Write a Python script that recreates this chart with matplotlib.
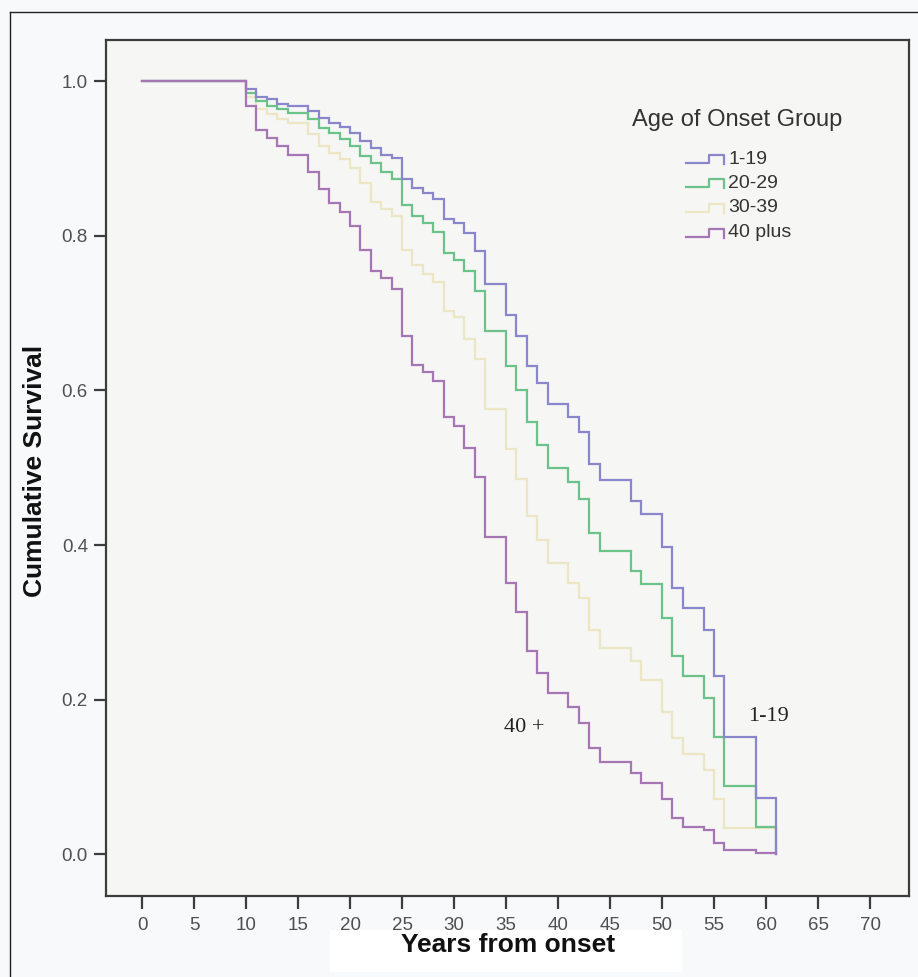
import matplotlib
matplotlib.use("Agg")
import matplotlib.pyplot as plt
from matplotlib.patches import Rectangle
from matplotlib.lines import Line2D

# ---------------- data ----------------
times = [0, 10, 11, 12, 13, 14, 16, 17, 18, 19, 20, 21, 22, 23, 24, 25, 26, 27, 28,
         29, 30, 31, 32, 33, 35, 36, 37, 38, 39, 41, 42, 43, 44, 47, 48, 50, 51, 52,
         54, 55, 56, 59, 61]

surv_1_19 = [1.0, 0.99, 0.98, 0.977, 0.971, 0.968, 0.961, 0.952, 0.946, 0.941, 0.933,
             0.922, 0.913, 0.905, 0.90, 0.873, 0.862, 0.855, 0.848, 0.822, 0.816, 0.803,
             0.78, 0.738, 0.697, 0.67, 0.632, 0.61, 0.582, 0.565, 0.546, 0.505, 0.484,
             0.457, 0.44, 0.397, 0.345, 0.318, 0.29, 0.23, 0.152, 0.073, 0.0]

surv_20_29 = [1.0, 0.985, 0.974, 0.968, 0.964, 0.959, 0.951, 0.939, 0.933, 0.925, 0.916,
              0.903, 0.894, 0.883, 0.873, 0.84, 0.825, 0.816, 0.805, 0.778, 0.768, 0.754,
              0.729, 0.677, 0.632, 0.60, 0.559, 0.529, 0.50, 0.481, 0.459, 0.416, 0.392,
              0.366, 0.349, 0.305, 0.256, 0.23, 0.202, 0.152, 0.088, 0.035, 0.0]

surv_30_39 = [1.0, 0.98, 0.964, 0.957, 0.951, 0.946, 0.931, 0.916, 0.907, 0.899, 0.887,
              0.868, 0.844, 0.835, 0.825, 0.782, 0.762, 0.75, 0.74, 0.703, 0.695, 0.667,
              0.641, 0.576, 0.524, 0.485, 0.437, 0.407, 0.377, 0.351, 0.331, 0.29, 0.267,
              0.25, 0.225, 0.184, 0.15, 0.13, 0.109, 0.072, 0.034, 0.034, 0.0]

surv_40plus = [1.0, 0.968, 0.937, 0.926, 0.916, 0.905, 0.883, 0.861, 0.842, 0.831, 0.812,
               0.782, 0.754, 0.745, 0.731, 0.67, 0.633, 0.624, 0.612, 0.565, 0.554, 0.525,
               0.488, 0.411, 0.351, 0.313, 0.263, 0.235, 0.208, 0.19, 0.17, 0.137, 0.119,
               0.105, 0.092, 0.071, 0.047, 0.035, 0.031, 0.015, 0.006, 0.002, 0.0]

group_labels = ["1-19", "20-29", "30-39", "40 plus"]
legend_title = "Age of Onset Group"
x_ticks = [0, 5, 10, 15, 20, 25, 30, 35, 40, 45, 50, 55, 60, 65, 70]
y_ticks = [0.0, 0.2, 0.4, 0.6, 0.8, 1.0]
y_tick_labels = ["0.0", "0.2", "0.4", "0.6", "0.8", "1.0"]

# ---------------- styling ----------------
colors = ["#8a86cc", "#6cc38a", "#ece6c4", "#a676b4"]
fig_bg = "#f8f9fa"
ax_bg = "#f6f6f5"
frame_col = "#3c3c3c"
tick_label_col = "#505050"

fig = plt.figure(figsize=(9.18, 9.77), dpi=100, facecolor=fig_bg)
ax = fig.add_axes([0.1155, 0.0829, 0.8747, 0.876])
ax.set_facecolor(ax_bg)

series = [surv_1_19, surv_20_29, surv_30_39, surv_40plus]
# draw pale ones first so darker are on top
order = [2, 1, 0, 3]
for i in order:
    ax.plot(times, series[i], drawstyle="steps-post", color=colors[i], lw=1.6,
            solid_joinstyle="miter", zorder=3)

ax.set_xlim(-3.46, 73.75)
ax.set_ylim(-0.054, 1.053)

ax.set_xticks(x_ticks)
ax.set_xticklabels([str(t) for t in x_ticks])
ax.set_yticks(y_ticks)
ax.set_yticklabels(y_tick_labels)

for lab in ax.get_xticklabels() + ax.get_yticklabels():
    lab.set_family("Liberation Sans")
    lab.set_fontsize(13.5)
    lab.set_color(tick_label_col)

ax.tick_params(axis="both", direction="out", length=9, width=1.6, color=frame_col, pad=4)
ax.tick_params(axis="x", pad=6)
for sp in ax.spines.values():
    sp.set_color(frame_col)
    sp.set_linewidth(1.6)

# ---------------- legend (manual) ----------------
ax.text(0.655, 0.9065, legend_title, transform=ax.transAxes, fontsize=17,
        family="Liberation Sans", color="#333333", va="center", ha="left")
entry_y = [0.861, 0.833, 0.804, 0.775]
hx0, hx1 = 0.722, 0.770
d = 0.0045
for lbl, col, yy in zip(group_labels, colors, entry_y):
    xm = hx0 + 0.6 * (hx1 - hx0)
    ax.add_line(Line2D([hx0, xm, xm, hx1, hx1],
                       [yy - d, yy - d, yy + d, yy + d, yy - 1.3 * d],
                       transform=ax.transAxes, color=col, lw=1.6, zorder=4))
    ax.text(0.775, yy, lbl, transform=ax.transAxes, fontsize=14,
            family="Liberation Sans", color="#333333", va="center", ha="left")

# ---------------- annotations ----------------
ax.text(36.8, 0.164, "40 +", fontsize=16, family="Liberation Serif",
        color="#222222", ha="center", va="center")
ax.text(60.2, 0.178, "1-19", fontsize=16, family="Liberation Serif",
        color="#222222", ha="center", va="center")

# ---------------- axis titles ----------------
fig.text(0.038, 0.518, "Cumulative Survival", rotation=90, fontsize=19,
         fontweight="bold", family="Liberation Sans", color="#111111",
         ha="center", va="center")

fig.patches.append(Rectangle((330 / 918, 1 - 972 / 977), 352 / 918, 42 / 977,
                             transform=fig.transFigure, facecolor="white",
                             edgecolor="none", zorder=0))
fig.text(0.553, 0.033, "Years from onset", fontsize=19, fontweight="bold",
         family="Liberation Sans", color="#111111", ha="center", va="center")

# outer border (left and top visible)
fig.add_artist(Line2D([10 / 918, 10 / 918], [0, 1 - 12 / 977], transform=fig.transFigure,
                      color="#222222", lw=1.0))
fig.add_artist(Line2D([10 / 918, 1.0], [1 - 12 / 977, 1 - 12 / 977], transform=fig.transFigure,
                      color="#222222", lw=1.0))

fig.savefig("out.png", dpi=100, facecolor=fig_bg)
